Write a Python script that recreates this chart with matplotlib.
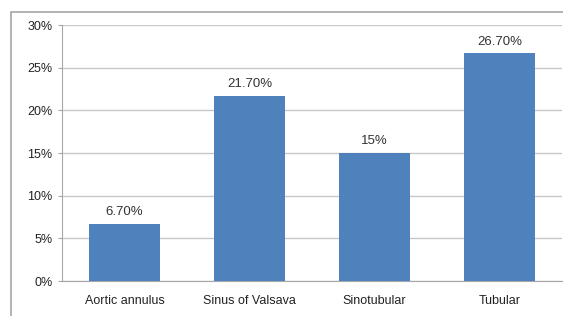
import matplotlib.pyplot as plt
from matplotlib.patches import Rectangle
from matplotlib.ticker import PercentFormatter

categories = ['Aortic annulus', 'Sinus of Valsava', 'Sinotubular', 'Tubular']
values = [6.7, 21.7, 15.0, 26.7]
labels = ['6.70%', '21.70%', '15%', '26.70%']

plt.rcParams['font.family'] = ['Liberation Sans', 'DejaVu Sans']

fig = plt.figure(figsize=(5.63, 3.16), dpi=100)
# outer chart border (cut off at right and bottom)
fig.patches.append(Rectangle((11 / 563, -0.05), 1.1, 1 - 12 / 316 + 0.05,
                             transform=fig.transFigure, fill=False,
                             edgecolor='#a6a6a6', linewidth=1.2))

ax = fig.add_axes([62 / 563, 1 - 281 / 316, 500 / 563, 256 / 316])
x = range(len(categories))
bars = ax.bar(x, values, width=0.57, color='#4f81bd', zorder=3)
for b, lab in zip(bars, labels):
    ax.annotate(lab, (b.get_x() + b.get_width() / 2, b.get_height()),
                xytext=(0, 4), textcoords='offset points',
                ha='center', va='bottom', fontsize=9.5, color='#333333')

ax.set_xlim(-0.5, len(categories) - 0.5)
ax.set_ylim(0, 30)
ax.set_yticks(range(0, 31, 5))
ax.yaxis.set_major_formatter(PercentFormatter(decimals=0))
ax.set_xticks(list(x))
ax.set_xticklabels(categories)
ax.tick_params(axis='x', length=0, pad=10, labelsize=9, colors='#222222')
ax.tick_params(axis='y', length=3, pad=4, labelsize=9, colors='#222222')
ax.tick_params(axis='y', color='#a6a6a6')
ax.grid(axis='y', color='#c8c8c8', linewidth=1, zorder=0)
for s in ['top', 'right']:
    ax.spines[s].set_visible(False)
for s in ['left', 'bottom']:
    ax.spines[s].set_color('#a6a6a6')

fig.savefig('out.png', dpi=100)
